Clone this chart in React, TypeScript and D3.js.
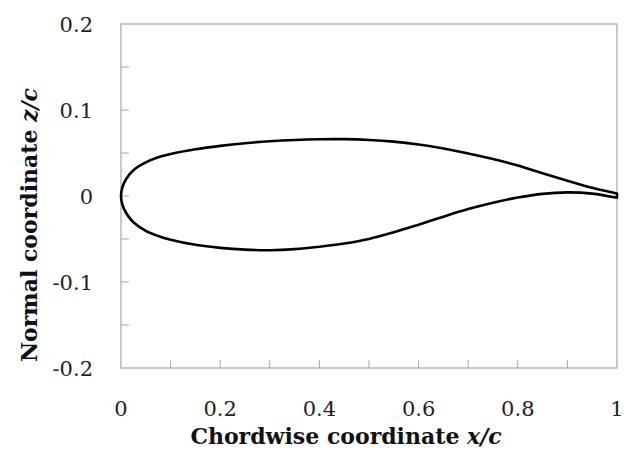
import React, { useEffect, useRef } from 'react';
import * as d3 from 'd3';

// airfoil coordinates (x/c, z/c)
const xs = [0, 0.0025, 0.01, 0.025, 0.05, 0.075, 0.1, 0.15, 0.2, 0.25, 0.3, 0.35, 0.4, 0.45, 0.5,
  0.55, 0.6, 0.65, 0.7, 0.75, 0.8, 0.85, 0.9, 0.95, 1.0];
const upperZ = [0, 0.0095, 0.0195, 0.030, 0.039, 0.045, 0.0488, 0.0543, 0.0583, 0.0614, 0.0637,
  0.0652, 0.066, 0.0661, 0.0652, 0.0632, 0.0598, 0.0552, 0.0495, 0.043, 0.0355, 0.0265, 0.0178,
  0.0095, 0.003];
const lowerZ = [0, -0.0095, -0.0195, -0.0305, -0.0405, -0.0465, -0.0508, -0.0567, -0.0603, -0.0624,
  -0.063, -0.0618, -0.059, -0.0553, -0.05, -0.0422, -0.0333, -0.024, -0.0152, -0.0078, -0.0018,
  0.0025, 0.0042, 0.0028, -0.002];
const xTicks = [0, 0.2, 0.4, 0.6, 0.8, 1];
const yTicks = [-0.2, -0.1, 0, 0.1, 0.2];

const App: React.FC = () => {
  const svgRef = useRef<SVGSVGElement>(null);

  useEffect(() => {
    if (!svgRef.current) return;
    const width = 624;
    const height = 453;
    const margin = { top: 24, right: 7, bottom: 85, left: 121 };

    const svg = d3.select(svgRef.current);
    svg.selectAll('*').remove();
    svg.attr('width', width).attr('height', height);

    const x = d3.scaleLinear().domain([0, 1]).range([margin.left, width - margin.right]);
    const y = d3.scaleLinear().domain([-0.2, 0.2]).range([height - margin.bottom, margin.top]);

    const font = "'DejaVu Serif', 'Liberation Serif', serif";
    const axisColor = '#a6a6a6';

    // frame
    svg.append('rect')
      .attr('x', x(0))
      .attr('y', y(0.2))
      .attr('width', x(1) - x(0))
      .attr('height', y(-0.2) - y(0.2))
      .attr('fill', 'none')
      .attr('stroke', axisColor)
      .attr('stroke-width', 1.2);

    // ticks point into the plot
    svg.append('g')
      .selectAll('line')
      .data(d3.range(1, 10).map(i => i / 10))
      .enter().append('line')
      .attr('x1', d => x(d)).attr('x2', d => x(d))
      .attr('y1', y(-0.2)).attr('y2', y(-0.2) - 8)
      .attr('stroke', axisColor);

    svg.append('g')
      .selectAll('line')
      .data(d3.range(1, 8).map(i => -0.2 + i * 0.05))
      .enter().append('line')
      .attr('x1', x(0)).attr('x2', x(0) + 8)
      .attr('y1', d => y(d)).attr('y2', d => y(d))
      .attr('stroke', axisColor);

    // tick labels
    svg.append('g')
      .selectAll('text')
      .data(xTicks)
      .enter().append('text')
      .attr('x', d => x(d))
      .attr('y', 416)
      .attr('text-anchor', 'middle')
      .style('font-family', font)
      .style('font-size', '21px')
      .attr('fill', '#222')
      .text(d => (d === 0 || d === 1 ? String(d) : d.toFixed(1)));

    svg.append('g')
      .selectAll('text')
      .data(yTicks)
      .enter().append('text')
      .attr('x', 93)
      .attr('y', d => y(d))
      .attr('dy', '0.36em')
      .attr('text-anchor', 'end')
      .style('font-family', font)
      .style('font-size', '21px')
      .attr('fill', '#222')
      .text(d => (d === 0 ? '0' : d.toFixed(1)));

    // axis titles (centred as in the original, not on the plot)
    const xt = svg.append('text')
      .attr('x', 346)
      .attr('y', 444)
      .attr('text-anchor', 'middle')
      .style('font-family', font)
      .style('font-size', '22px')
      .style('font-weight', 'bold')
      .attr('fill', '#111');
    xt.append('tspan').text('Chordwise coordinate ');
    xt.append('tspan').style('font-style', 'italic').text('x/c');

    const yt = svg.append('text')
      .attr('transform', 'translate(37,225) rotate(-90)')
      .attr('text-anchor', 'middle')
      .style('font-family', font)
      .style('font-size', '22px')
      .style('font-weight', 'bold')
      .attr('fill', '#111');
    yt.append('tspan').text('Normal coordinate ');
    yt.append('tspan').style('font-style', 'italic').text('z/c');

    // contour: upper surface TE -> LE, then lower surface LE -> TE, closed at the TE
    const pts: [number, number][] = [
      ...xs.map((d, i) => [d, upperZ[i]] as [number, number]).reverse(),
      ...xs.slice(1).map((d, i) => [d, lowerZ[i + 1]] as [number, number]),
    ];
    const line = d3.line<[number, number]>()
      .x(d => x(d[0]))
      .y(d => y(d[1]))
      .curve(d3.curveCatmullRom.alpha(0.5));

    svg.append('path')
      .attr('d', line(pts) + 'Z')
      .attr('fill', 'none')
      .attr('stroke', '#000')
      .attr('stroke-width', 2.6)
      .attr('stroke-linejoin', 'round');
  }, []);

  return <svg ref={svgRef} style={{ display: 'block', position: 'absolute', left: 0, top: 0 }}></svg>;
};

export default App;
